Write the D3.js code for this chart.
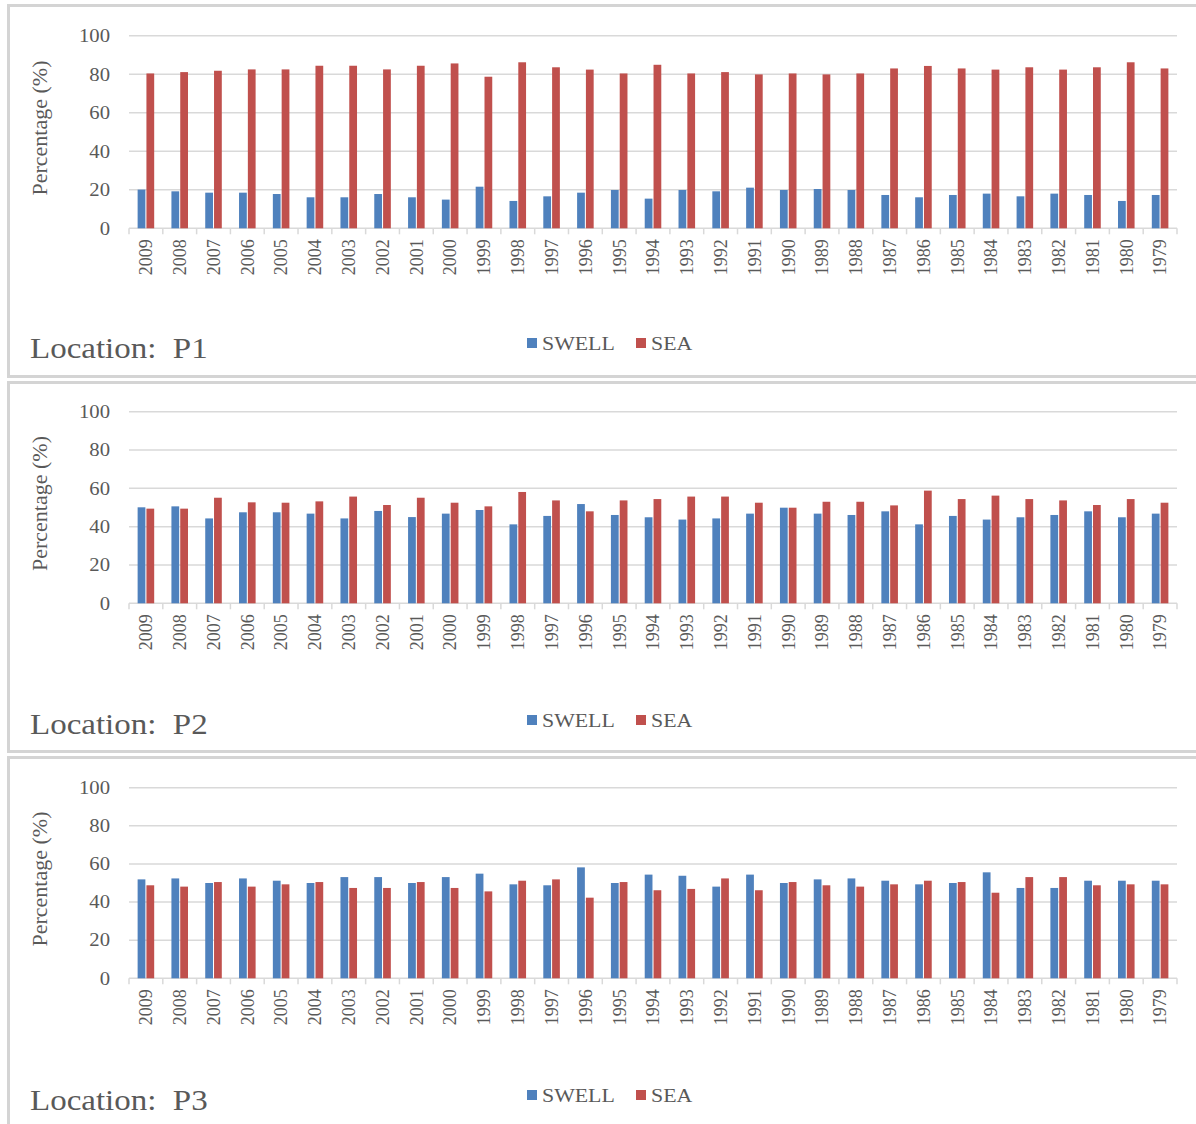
<!DOCTYPE html>
<html>
<head>
<meta charset="utf-8">
<script src="https://cdn.jsdelivr.net/npm/d3@7"></script>
<style>
  html, body { margin: 0; padding: 0; background: #ffffff; }
  svg { display: block; }
  text { font-family: "Liberation Serif", "Times New Roman", serif; }
</style>
</head>
<body>
<svg id="chart" width="1196" height="1124"></svg>
<script>
// Years shown on the category axis (most recent first)
const years = ["2009","2008","2007","2006","2005","2004","2003","2002","2001","2000",
  "1999","1998","1997","1996","1995","1994","1993","1992","1991","1990",
  "1989","1988","1987","1986","1985","1984","1983","1982","1981","1980","1979"];

const seriesNames = ["SWELL", "SEA"];
const yTicks = [0, 20, 40, 60, 80, 100];

// Location P1
const p1Swell = [20.1,19.2,18.5,18.5,17.8,16.1,16.1,17.8,16.1,14.9,
  21.6,14.2,16.6,18.5,19.9,15.4,19.9,19.2,21.1,19.9,
  20.4,19.9,17.3,16.1,17.3,18.0,16.6,18.0,17.3,14.2,17.3];
const p1Sea = [80.4,81.1,81.8,82.5,82.5,84.4,84.4,82.5,84.4,85.6,
  78.7,86.2,83.6,82.4,80.4,84.9,80.4,81.1,79.9,80.4,
  79.9,80.4,83.0,84.3,83.0,82.4,83.6,82.4,83.6,86.2,83.0];

// Location P2
const p2Swell = [50.1,50.6,44.3,47.5,47.5,46.8,44.3,48.2,45.0,46.8,
  48.7,41.2,45.6,51.8,46.1,44.9,43.7,44.3,46.8,49.9,
  46.8,46.1,48.0,41.2,45.6,43.7,44.9,46.1,48.0,44.9,46.8];
const p2Sea = [49.4,49.4,55.1,52.7,52.5,53.2,55.7,51.3,55.1,52.5,
  50.6,58.1,53.7,48.0,53.7,54.4,55.7,55.7,52.5,49.9,
  53.0,53.0,51.1,58.8,54.4,56.2,54.4,53.7,51.3,54.4,52.5];

// Location P3
const p3Swell = [51.9,52.4,50.0,52.4,51.2,50.0,53.1,53.1,50.0,53.1,
  54.9,49.3,48.8,58.2,50.0,54.4,53.8,48.1,54.4,50.0,
  51.9,52.4,51.2,49.3,50.0,55.6,47.4,47.4,51.2,51.2,51.2];
const p3Sea = [48.8,48.1,50.5,48.1,49.3,50.5,47.4,47.4,50.5,47.4,
  45.6,51.2,51.9,42.3,50.5,46.2,46.9,52.4,46.2,50.5,
  48.8,48.1,49.3,51.2,50.5,44.9,53.1,53.1,48.8,49.3,49.3];

const panels = [
  { title: "Location:  P1", swell: p1Swell, sea: p1Sea, top: 5,   bottom: 377, y0: 228.3, y100: 35.7,  legendY: 350, titleY: 358 },
  { title: "Location:  P2", swell: p2Swell, sea: p2Sea, top: 382, bottom: 752, y0: 603.3, y100: 411.7, legendY: 727, titleY: 734 },
  { title: "Location:  P3", swell: p3Swell, sea: p3Sea, top: 757, bottom: 1126, y0: 978.3, y100: 787.7, legendY: 1102, titleY: 1110 }
];

const colors = { SWELL: "#4f81bd", SEA: "#c0504d" };
const gridColor = "#d9d9d9";
const textColor = "#595959";
const plotLeft = 129, plotRight = 1177;

const svg = d3.select("#chart");

svg.append("rect").attr("x", 0).attr("y", 0).attr("width", 1196).attr("height", 1124).attr("fill", "#ffffff");

const x0 = d3.scaleBand().domain(years).range([plotLeft, plotRight]).paddingInner(0).paddingOuter(0);
const x1 = d3.scaleBand().domain(seriesNames)
  .range([x0.bandwidth() * 0.255, x0.bandwidth() * 0.745]).paddingInner(0.12).paddingOuter(0);

panels.forEach(p => {
  const g = svg.append("g");

  // chart box
  g.append("rect")
    .attr("x", 8.5).attr("y", p.top + 0.5)
    .attr("width", 1190).attr("height", p.bottom - p.top - 1)
    .attr("fill", "#ffffff").attr("stroke", "#d4d4d4").attr("stroke-width", 3);

  const y = d3.scaleLinear().domain([0, 100]).range([p.y0, p.y100]);

  // horizontal gridlines
  g.append("g").selectAll("line").data(yTicks).join("line")
    .attr("x1", plotLeft).attr("x2", plotRight)
    .attr("y1", d => y(d)).attr("y2", d => y(d))
    .attr("stroke", gridColor).attr("stroke-width", 1.5);

  // y tick labels
  g.append("g").selectAll("text").data(yTicks).join("text")
    .attr("transform", d => `translate(110,${y(d)}) scale(1.15,1)`)
    .attr("dy", "0.35em").attr("text-anchor", "end")
    .attr("font-size", 18).attr("fill", textColor)
    .text(d => d);

  // y axis title
  g.append("text")
    .attr("transform", `translate(47,${(p.y0 + p.y100) / 2 - 4}) rotate(-90)`)
    .attr("text-anchor", "middle")
    .attr("font-size", 22).attr("fill", textColor)
    .text("Percentage (%)");

  // category tick marks at slot boundaries
  const bounds = years.map(d => x0(d)).concat([x0(years[years.length - 1]) + x0.bandwidth()]);
  g.append("g").selectAll("line").data(bounds).join("line")
    .attr("x1", d => d).attr("x2", d => d)
    .attr("y1", p.y0).attr("y2", p.y0 + 6)
    .attr("stroke", gridColor).attr("stroke-width", 1.5);

  // bars
  const rows = years.map((yr, i) => ({ year: yr, SWELL: p.swell[i], SEA: p.sea[i] }));
  g.append("g").selectAll("g").data(rows).join("g")
    .attr("transform", d => `translate(${x0(d.year)},0)`)
    .selectAll("rect")
    .data(d => seriesNames.map(k => ({ key: k, value: d[k] })))
    .join("rect")
    .attr("x", d => x1(d.key))
    .attr("width", x1.bandwidth())
    .attr("y", d => y(d.value))
    .attr("height", d => y(0) - y(d.value))
    .attr("fill", d => colors[d.key]);

  // year labels, rotated
  g.append("g").selectAll("text").data(years).join("text")
    .attr("transform", d => `translate(${x0(d) + x0.bandwidth() / 2},${p.y0 + 11}) rotate(-90)`)
    .attr("dy", "0.35em").attr("text-anchor", "end")
    .attr("font-size", 18).attr("fill", textColor)
    .text(d => d);

  // location title
  g.append("text")
    .attr("transform", `translate(30,${p.titleY}) scale(1.1,1)`)
    .attr("font-size", 30).attr("fill", "#595959")
    .style("white-space", "pre")
    .text(p.title);

  // legend
  const legend = g.append("g");
  const legendItems = [{ key: "SWELL", x: 527 }, { key: "SEA", x: 636 }];
  legend.selectAll("rect").data(legendItems).join("rect")
    .attr("x", d => d.x).attr("y", p.legendY - 12)
    .attr("width", 10).attr("height", 10)
    .attr("fill", d => colors[d.key]);
  legend.selectAll("text").data(legendItems).join("text")
    .attr("transform", d => `translate(${d.x + 15},${p.legendY}) scale(1.15,1)`)
    .attr("font-size", 19).attr("fill", textColor)
    .text(d => d.key);
});
</script>
</body>
</html>
